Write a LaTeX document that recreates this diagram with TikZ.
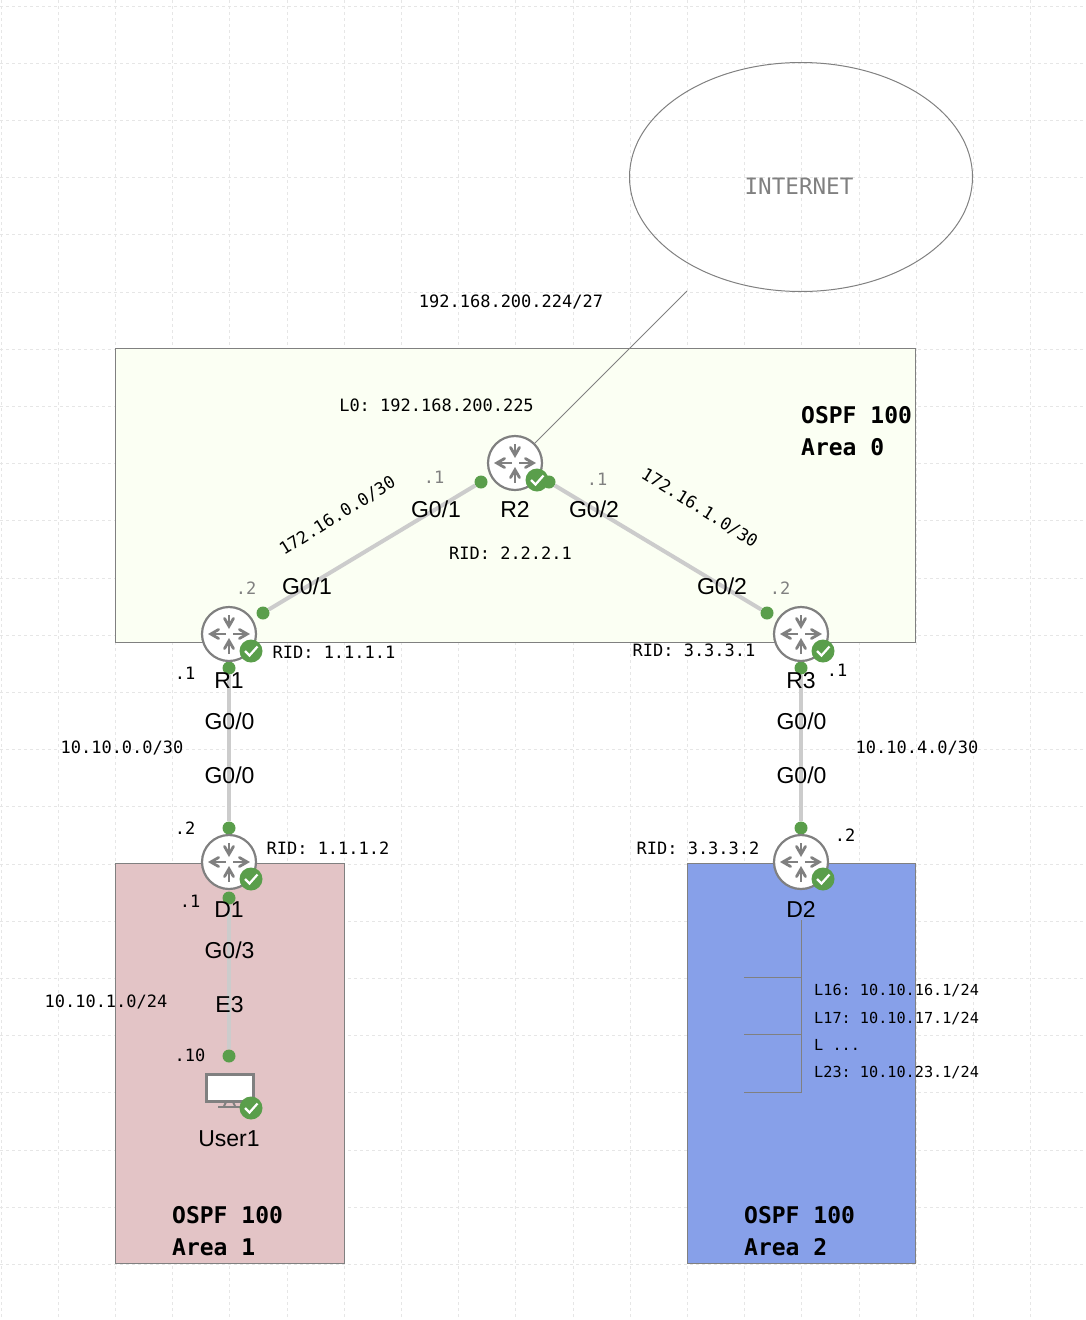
\documentclass[tikz,border=0pt]{standalone}
\usepackage{fontspec}
\setmainfont{Liberation Sans}
\setmonofont{DejaVu Sans Mono}
\usetikzlibrary{arrows,positioning,shapes,calc}
\definecolor{gridgray}{HTML}{E6E6E6}
\definecolor{edgegray}{HTML}{808080}
\definecolor{linkgray}{HTML}{CCCCCC}
\definecolor{okgreen}{HTML}{5A9E4B}
\definecolor{areazero}{HTML}{FBFFF3}
\definecolor{areaone}{HTML}{E3C4C6}
\definecolor{areatwo}{HTML}{87A0E9}
\tikzset{
  areabox/.style={draw=edgegray,line width=1pt},
  linkline/.style={draw=linkgray,line width=4pt},
  thinline/.style={draw=edgegray,line width=1pt},
  portdot/.style={circle,fill=okgreen,inner sep=0pt,minimum size=13pt},
  routerbody/.style={circle,draw=edgegray,fill=white,line width=2.2pt,inner sep=0pt,minimum size=54pt},
  okbadge/.style={circle,fill=okgreen,inner sep=0pt,minimum size=23pt},
  iconarrow/.style={draw=edgegray,line width=2.8pt,-angle 60},
  devname/.style={font=\fontsize{23}{26}\selectfont,inner sep=0pt},
  addr/.style={font=\ttfamily\fontsize{17}{20}\selectfont,inner sep=0pt},
  addrgray/.style={addr,text=edgegray},
  loopaddr/.style={font=\ttfamily\fontsize{15.2}{18}\selectfont,inner sep=0pt,anchor=west},
  areatitle/.style={font=\ttfamily\bfseries\fontsize{23}{32}\selectfont,inner sep=0pt,anchor=west,align=left}
}
% green badge with a tick
\newcommand{\okmark}[2]{
  \node[okbadge] (#1ok) at ($(#2)+(22,17)$) {};
  \draw[white,line width=2.2pt] ($(#1ok)+(-6,0)$) -- ($(#1ok)+(-1.5,4.5)$) -- ($(#1ok)+(6.5,-4.5)$);
}
% router symbol
\newcommand{\routericon}[3]{
  \node[routerbody] (#1) at (#2,#3) {};
  \draw[iconarrow] ($(#1)+(0,-19)$) -- ($(#1)+(0,-5)$);
  \draw[iconarrow] ($(#1)+(0,20)$) -- ($(#1)+(0,4)$);
  \draw[iconarrow] ($(#1)+(-3,0)$) -- ($(#1)+(-21,0)$);
  \draw[iconarrow] ($(#1)+(4,0)$) -- ($(#1)+(21,0)$);
  \okmark{#1}{#1}
}
\begin{document}
\begin{tikzpicture}[x=1pt,y=-1pt]
  \useasboundingbox (0,0) rectangle (1086,1320);
  % grid
  \foreach \k in {0,...,18}
    \draw[gridgray,dashed,line width=0.8pt] ({1+57.2*\k},0) -- ({1+57.2*\k},1320);
  \foreach \k in {0,...,23}
    \draw[gridgray,dashed,line width=0.8pt] (0,{6+57.2*\k}) -- (1086,{6+57.2*\k});
  % areas
  \draw[areabox,fill=areazero] (115,348) rectangle (915,642);
  \draw[areabox,fill=areaone] (115,863) rectangle (344,1263);
  \draw[areabox,fill=areatwo] (687,863) rectangle (915,1263);
  \node[ellipse,draw=edgegray,line width=1pt,minimum width=343pt,minimum height=229pt,inner sep=0pt] (net) at (801,177) {};
  \node[font=\ttfamily\fontsize{22.6}{26}\selectfont,text=edgegray,inner sep=0pt] (netlabel) at (799,186) {INTERNET};
  \coordinate (netend) at (687,291);
  % ports
  \foreach \pname/\x/\y in {r2left/481/482,r2right/549/482,r1up/263/613,r3up/767/613,
      r1down/229/668,d1up/229/828,r3down/801/668,d2up/801/828,d1down/229/898,userup/229/1056}
    \node[portdot] (\pname) at (\x,\y) {};
  % links
  \draw[linkline] (r1up) -- (r2left);
  \draw[linkline] (r2right) -- (r3up);
  \draw[linkline] (r1down) -- (d1up);
  \draw[linkline] (r3down) -- (d2up);
  \draw[linkline] (d1down) -- (userup);
  % devices
  \routericon{r2}{515}{463}
  \routericon{r1}{229}{634}
  \routericon{r3}{801}{634}
  \routericon{d1}{229}{862}
  \routericon{d2}{801}{862}
  \draw[thinline] (r2) -- (netend);
  % user screen
  \node[draw=edgegray,fill=white,line width=3pt,minimum width=47pt,minimum height=27pt,inner sep=0pt] (user) at (229.5,1088) {};
  \draw[edgegray,line width=2pt] (226,1102) -- (224,1106);
  \draw[edgegray,line width=2pt] (233,1102) -- (235,1106);
  \draw[edgegray,line width=2.5pt] (218,1107) -- (241,1107);
  \okmark{user}{229,1091}
  % loopbacks on D2
  \coordinate (loopa) at (744,977);
  \coordinate (loopb) at (744,1034);
  \coordinate (loopc) at (744,1092);
  \coordinate (looptop) at (801,920);
  \draw[thinline] (looptop) |- (loopc);
  \draw[thinline] (loopa) -- (loopa -| looptop);
  \draw[thinline] (loopb) -- (loopb -| looptop);
  % device names
  \node[devname] (r2name) at (515,509) {R2};
  \node[devname] (r1name) at (229,681) {R1};
  \node[devname] (r3name) at (801,681) {R3};
  \node[devname] (d1name) at (229,910) {D1};
  \node[devname] (d2name) at (801,909) {D2};
  \node[devname] (username) at (229,1139) {User1};
  % interface names
  \node[devname] (ifa) at (436,509) {G0/1};
  \node[devname] (ifb) at (594,509) {G0/2};
  \node[devname] (ifc) at (307,586) {G0/1};
  \node[devname] (ifd) at (722,586) {G0/2};
  \node[devname] (ife) at (229.5,721) {G0/0};
  \node[devname] (iff) at (229.5,775) {G0/0};
  \node[devname] (ifg) at (801.5,721) {G0/0};
  \node[devname] (ifh) at (801.5,775) {G0/0};
  \node[devname] (ifi) at (229.5,950) {G0/3};
  \node[devname] (ifj) at (229.5,1005) {E3};
  % addresses
  \node[addr] (addra) at (511,302) {192.168.200.224/27};
  \node[addr] (addrb) at (436.5,405) {L0: 192.168.200.225};
  \node[addr] (rida) at (510.5,553) {RID: 2.2.2.1};
  \node[addr] (ridb) at (334,652) {RID: 1.1.1.1};
  \node[addr] (ridc) at (694,650) {RID: 3.3.3.1};
  \node[addr] (ridd) at (328,848) {RID: 1.1.1.2};
  \node[addr] (ride) at (698,848) {RID: 3.3.3.2};
  \node[addr] (nete) at (122,748) {10.10.0.0/30};
  \node[addr] (netf) at (917,748) {10.10.4.0/30};
  \node[addr] (netg) at (106,1002) {10.10.1.0/24};
  \node[addr,rotate=32] (netc) at (337.5,516) {172.16.0.0/30};
  \node[addr,rotate=-32] (netd) at (699.5,508) {172.16.1.0/30};
  % host parts
  \node[addrgray] (hosta) at (434,477) {.1};
  \node[addrgray] (hostb) at (597,479) {.1};
  \node[addrgray] (hostc) at (246,588) {.2};
  \node[addrgray] (hostd) at (780,588) {.2};
  \node[addr] (hoste) at (185,673) {.1};
  \node[addr] (hostf) at (837,670) {.1};
  \node[addr] (hostg) at (185,828) {.2};
  \node[addr] (hosth) at (845,835) {.2};
  \node[addr] (hosti) at (190,901) {.1};
  \node[addr] (hostj) at (190,1055) {.10};
  % loopback list
  \node[loopaddr] (loopq) at (814,991) {L16: 10.10.16.1/24};
  \node[loopaddr] (loopr) at (814,1019) {L17: 10.10.17.1/24};
  \node[loopaddr] (loops) at (814,1045) {L ...};
  \node[loopaddr] (loopt) at (814,1073) {L23: 10.10.23.1/24};
  % area titles
  \node[areatitle] (titlezero) at (801,431) {OSPF 100\\Area 0};
  \node[areatitle] (titleone) at (172,1231) {OSPF 100\\Area 1};
  \node[areatitle] (titletwo) at (744,1231) {OSPF 100\\Area 2};
\end{tikzpicture}
\end{document}
